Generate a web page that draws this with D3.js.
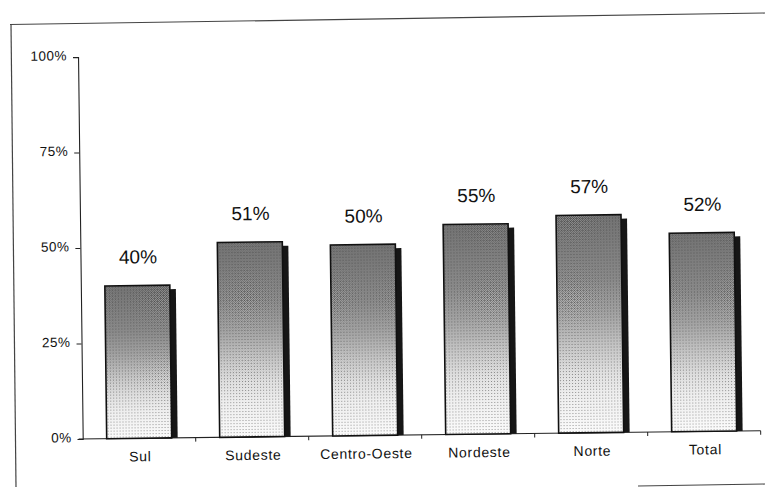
<!DOCTYPE html>
<html>
<head>
<meta charset="utf-8">
<script src="https://cdn.jsdelivr.net/npm/d3@7"></script>
<style>
  html, body { margin: 0; padding: 0; background: #fff; }
  svg { display: block; }
  text { font-family: "Liberation Sans", Arial, sans-serif; fill: #111; }
</style>
</head>
<body>
<svg id="chart" width="765" height="487"></svg>
<script>
// Regional shares (percent)
const categories = ["Sul", "Sudeste", "Centro-Oeste", "Nordeste", "Norte", "Total"];
const values = [40, 51, 50, 55, 57, 52];
const yTicks = [0, 25, 50, 75, 100];

const svg = d3.select("#chart");
const defs = svg.append("defs");

// Bar shading: grey at the top fading to near white at the base
const grad = defs.append("linearGradient")
  .attr("id", "barShade").attr("x1", 0).attr("y1", 0).attr("x2", 0).attr("y2", 1);
[[0, "#8e8e8e"], [0.3, "#a4a4a4"], [0.6, "#d6d6d6"], [0.82, "#f2f2f2"], [1, "#fbfbfb"]]
  .forEach(([o, c]) => grad.append("stop").attr("offset", o).attr("stop-color", c));

// Fine dot texture laid over the shading
const dots = defs.append("pattern")
  .attr("id", "dots").attr("patternUnits", "userSpaceOnUse")
  .attr("width", 3).attr("height", 3);
dots.append("rect").attr("x", 1).attr("y", 1).attr("width", 1).attr("height", 1)
  .attr("fill", "#333").attr("opacity", 0.5);

const checker = defs.append("pattern")
  .attr("id", "checker").attr("patternUnits", "userSpaceOnUse")
  .attr("width", 2).attr("height", 2);
checker.append("rect").attr("width", 1).attr("height", 1).attr("fill", "#222");
checker.append("rect").attr("x", 1).attr("y", 1).attr("width", 1).attr("height", 1).attr("fill", "#222");

const fadeGrad = defs.append("linearGradient")
  .attr("id", "fade").attr("x1", 0).attr("y1", 0).attr("x2", 0).attr("y2", 1);
[[0, 0.5], [0.45, 0.35], [0.72, 0.06], [1, 0]]
  .forEach(([o, a]) => fadeGrad.append("stop").attr("offset", o)
    .attr("stop-color", "#fff").attr("stop-opacity", a));
const mask = defs.append("mask").attr("id", "fadeMask")
  .attr("maskContentUnits", "objectBoundingBox");
mask.append("rect").attr("width", 1).attr("height", 1).attr("fill", "url(#fade)");

// Page frame
const frame = svg.append("g").attr("stroke", "#444").attr("stroke-width", 1.2).attr("fill", "none");
frame.append("line").attr("x1", 10).attr("y1", 24.5).attr("x2", 765).attr("y2", 13);
frame.append("line").attr("x1", 11).attr("y1", 24).attr("x2", 16).attr("y2", 487);
frame.append("line").attr("x1", 638).attr("y1", 486).attr("x2", 765).attr("y2", 484);

// Plot area, origin at the axis corner, slightly tilted
const W = 678, H = 382;
const g = svg.append("g").attr("transform", "translate(82.7,439) rotate(-0.7)");

const x = d3.scaleBand().domain(categories).range([0, W]).padding(0);
const y = d3.scaleLinear().domain([0, 100]).range([0, -H]);
const barW = x.bandwidth() * 0.575;

// Y axis
const yAxis = g.append("g").call(
  d3.axisLeft(y).tickValues(yTicks).tickSize(5).tickPadding(6).tickFormat(d => d + "%")
);
yAxis.select(".domain").attr("stroke", "#222").attr("stroke-width", 1.1);
yAxis.selectAll(".tick line").attr("stroke", "#222");
yAxis.selectAll(".tick text")
  .attr("dy", "0.2em")
  .style("font-size", "13.5px").style("letter-spacing", "0.5px")
  .style("font-family", "'Liberation Sans', Arial, sans-serif").attr("fill", "#111");

// X axis line with ticks at category boundaries
g.append("line").attr("x1", -4).attr("y1", 0).attr("x2", W).attr("y2", 0)
  .attr("stroke", "#222").attr("stroke-width", 1.1);
g.selectAll(".xtick").data(categories).join("line")
  .attr("class", "xtick")
  .attr("x1", d => x(d) + x.bandwidth()).attr("x2", d => x(d) + x.bandwidth())
  .attr("y1", 0).attr("y2", 4).attr("stroke", "#222");

g.selectAll(".cat").data(categories).join("text")
  .attr("class", "cat")
  .attr("x", d => x(d) + x.bandwidth() / 2 + 1)
  .attr("y", 23)
  .attr("text-anchor", "middle")
  .style("font-size", "14px").style("letter-spacing", "0.7px")
  .text(d => d);

// Bars
const data = categories.map((c, i) => ({ c, v: values[i] }));
const bars = g.selectAll(".bar").data(data).join("g").attr("class", "bar");
const bx = d => x(d.c) + (x.bandwidth() - barW) / 2;

// drop shadow on the right side
bars.append("rect")
  .attr("x", d => bx(d) + barW - 1)
  .attr("y", d => y(d.v) + 4)
  .attr("width", 7)
  .attr("height", d => -y(d.v) - 4)
  .attr("fill", "#161616");

bars.append("rect")
  .attr("x", bx).attr("y", d => y(d.v))
  .attr("width", barW).attr("height", d => -y(d.v))
  .attr("fill", "url(#barShade)");
bars.append("rect")
  .attr("x", bx).attr("y", d => y(d.v))
  .attr("width", barW).attr("height", d => -y(d.v))
  .attr("fill", "url(#checker)").attr("mask", "url(#fadeMask)");
bars.append("rect")
  .attr("x", bx).attr("y", d => y(d.v))
  .attr("width", barW).attr("height", d => -y(d.v))
  .attr("fill", "url(#dots)")
  .attr("stroke", "#111").attr("stroke-width", 1.6);

// Value labels
g.selectAll(".val").data(data).join("text")
  .attr("class", "val")
  .attr("x", d => x(d.c) + x.bandwidth() / 2 + 1)
  .attr("y", d => y(d.v) - 22)
  .attr("text-anchor", "middle")
  .style("font-size", "19px")
  .text(d => d.v + "%");
</script>
</body>
</html>
